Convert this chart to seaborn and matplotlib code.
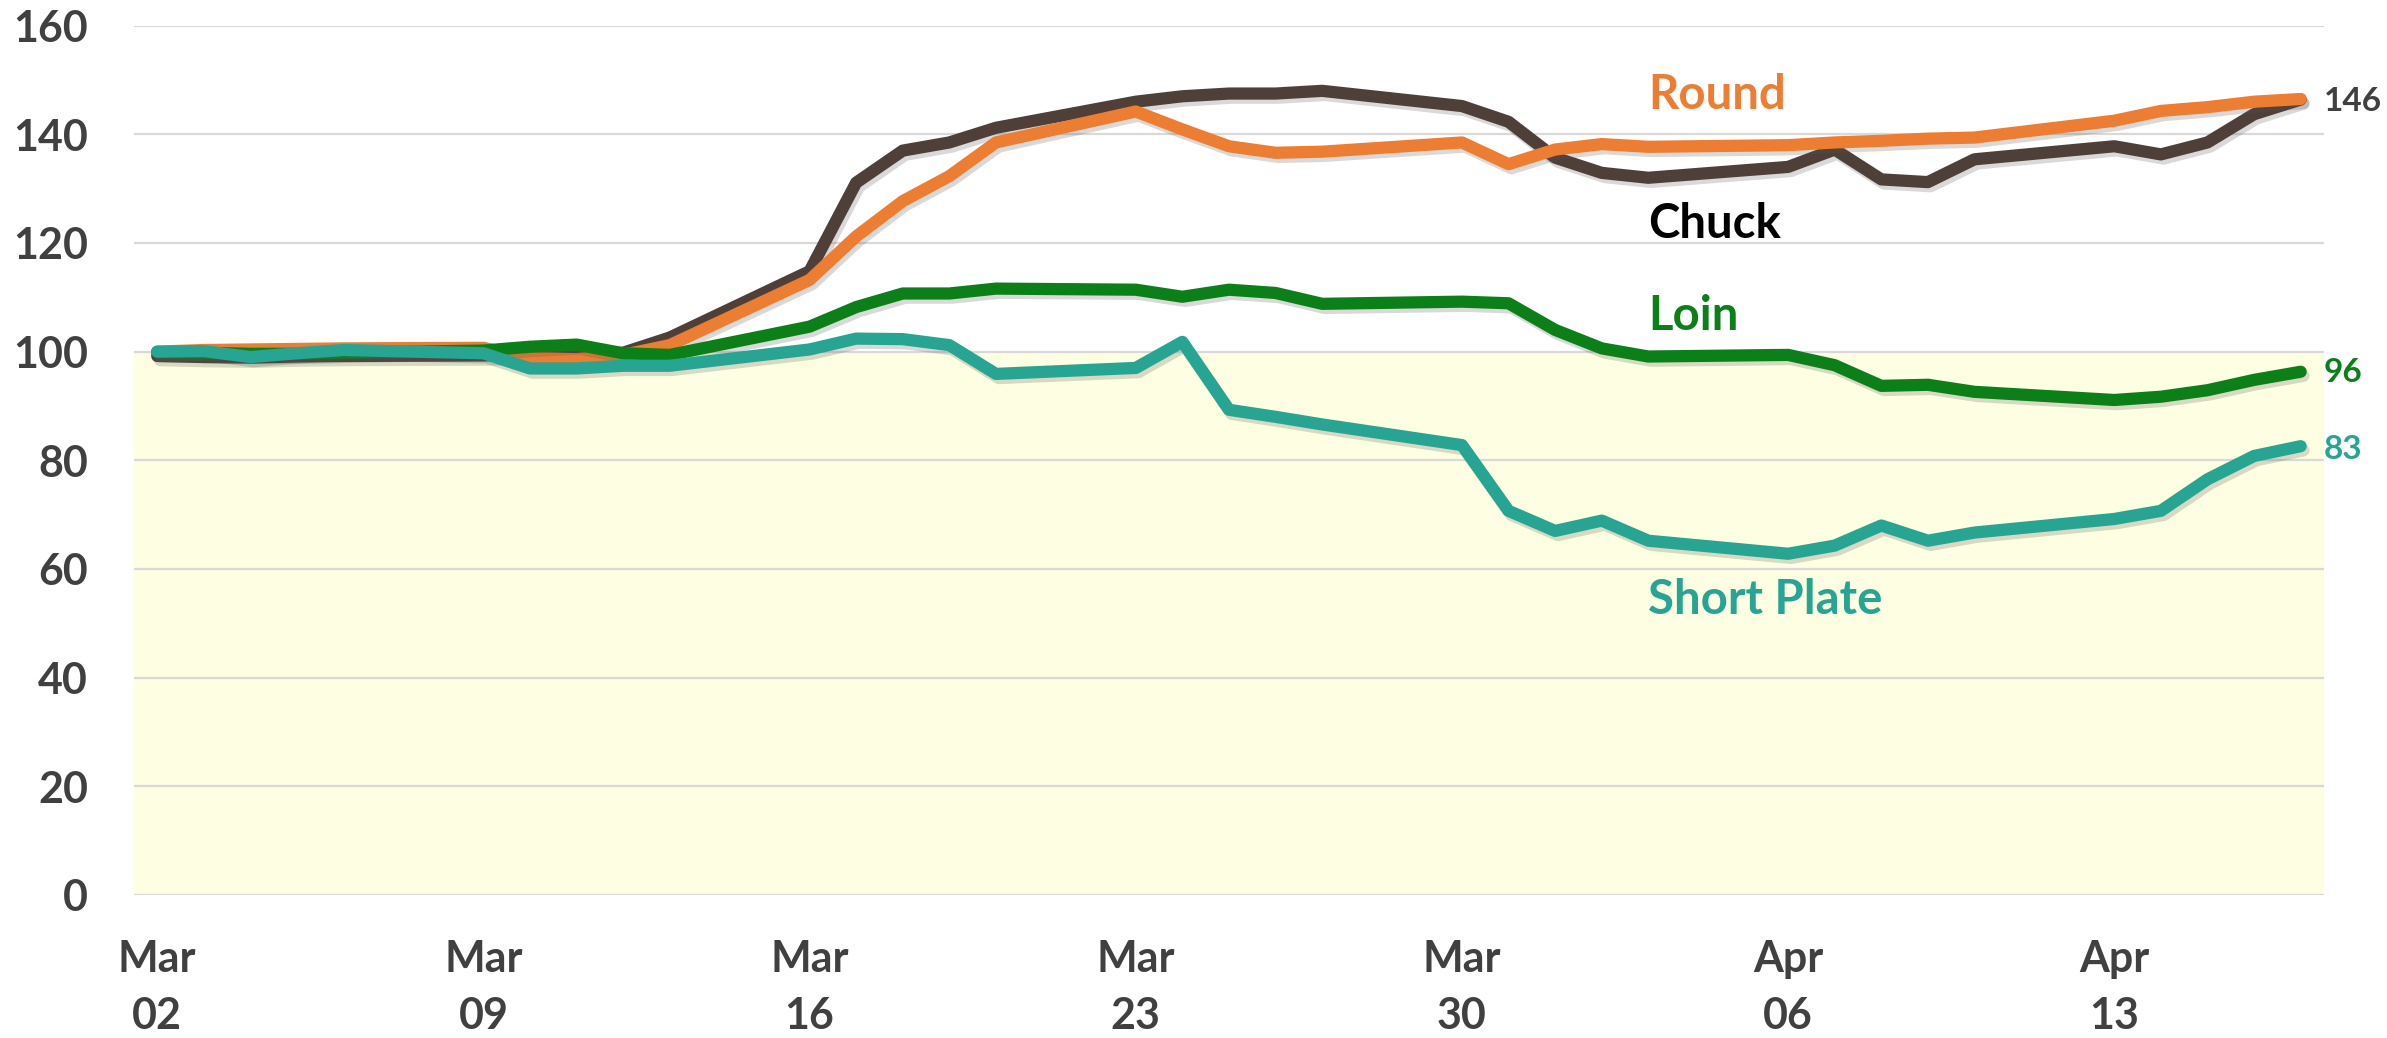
import pandas as pd
import matplotlib
matplotlib.use("Agg")
import matplotlib.pyplot as plt
import matplotlib.dates as mdates
import matplotlib.patheffects as pe
import seaborn as sns

# business days, Mar 02 - Apr 17
dates = pd.bdate_range("2020-03-02", "2020-04-17")

chuck = [99.2, 99.0, 98.9, 99.1, 99.2,
         99.3, 99.4, 99.3, 99.8, 102.6,
         114.8, 131.1, 137.0, 138.5, 141.2,
         146.0, 147.0, 147.5, 147.5, 148.0,
         145.2, 142.3, 135.7, 132.9, 132.0,
         134.0, 137.2, 131.7, 131.2, 135.4,
         137.8, 136.3, 138.5, 143.7, 146.4]
round_ = [100.0, 100.3, 100.4, 100.5, 100.6,
          100.7, 98.8, 98.6, 99.4, 101.2,
          113.2, 121.2, 127.7, 132.3, 138.5,
          144.2, 140.9, 137.8, 136.6, 136.8,
          138.5, 134.5, 137.2, 138.2, 137.7,
          138.0, 138.5, 138.8, 139.2, 139.4,
          142.5, 144.3, 145.0, 146.0, 146.5]
loin = [99.9, 99.8, 99.6, 99.6, 99.8,
        100.2, 100.9, 101.3, 99.7, 99.4,
        104.6, 108.2, 110.7, 110.7, 111.6,
        111.4, 110.1, 111.4, 110.8, 108.8,
        109.2, 108.9, 104.0, 100.6, 99.1,
        99.4, 97.5, 93.7, 93.9, 92.6,
        91.1, 91.7, 92.9, 94.8, 96.3]
short_plate = [100.0, 100.1, 99.0, 99.7, 100.3,
               99.7, 96.9, 96.9, 97.4, 97.4,
               100.4, 102.4, 102.3, 101.2, 95.9,
               97.0, 101.8, 89.3, 88.0, 86.6,
               82.8, 70.7, 67.0, 68.9, 65.2,
               62.8, 64.3, 68.0, 65.2, 66.7,
               69.2, 70.7, 76.5, 80.8, 82.6]

cuts = ["Chuck", "Round", "Loin", "Short Plate"]
colors = {"Chuck": "#4E4039", "Round": "#ED7D31", "Loin": "#0B8018", "Short Plate": "#26A592"}
label_colors = {"Chuck": "#000000", "Round": "#ED7D31", "Loin": "#0B8018", "Short Plate": "#26A592"}
# series label positions (day offset from Mar 02, baseline value)
label_pos = {"Round": (32, 144.6), "Chuck": (32, 121.0), "Loin": (32, 103.9), "Short Plate": (32, 51.8)}
end_labels = [("146", 144.3, "#404040"), ("96", 94.4, "#0B8018"), ("83", 80.3, "#26A592")]

df = pd.DataFrame({"date": dates, "Chuck": chuck, "Round": round_,
                   "Loin": loin, "Short Plate": short_plate})
df = df.melt(id_vars="date", var_name="cut", value_name="value")

sns.set_style("white")
plt.rcParams["font.family"] = ["Lato", "DejaVu Sans"]
plt.rcParams["font.weight"] = "bold"

fig = plt.figure(figsize=(23.87, 10.38), dpi=100)
ax = fig.add_axes([0.0561, 0.1378, 0.9175, 0.8375])

ax.axhspan(0, 100, color="#FEFEE2", zorder=0, lw=0)

sns.lineplot(data=df, x="date", y="value", hue="cut", hue_order=cuts,
             palette=colors, lw=8.8, legend=False, errorbar=None, ax=ax)
for line in ax.lines:
    line.set_solid_capstyle("round")
    line.set_path_effects([pe.SimpleLineShadow(offset=(2, -3), shadow_color="#555555", alpha=0.22),
                           pe.Normal()])

start = dates[0]
ax.set_xlim(start - pd.Timedelta(days=0.5), start + pd.Timedelta(days=46.5))
ax.set_ylim(0, 160)
ax.set_yticks(range(0, 161, 20))
ax.set_xticks(pd.date_range("2020-03-02", periods=7, freq="7D"))
ax.xaxis.set_major_formatter(mdates.DateFormatter("%b\n%d"))

ax.yaxis.grid(True, color="#D9D9D9", lw=1.6)
ax.xaxis.grid(False)
ax.set_axisbelow(True)
for s in ax.spines.values():
    s.set_visible(False)

ax.tick_params(axis="both", length=0, labelsize=31, labelcolor="#404040")
ax.tick_params(axis="y", pad=33)
ax.tick_params(axis="x", pad=32)
for t in ax.get_xticklabels():
    t.set_linespacing(1.5)
    t.set_fontweight("bold")
for t in ax.get_yticklabels():
    t.set_fontweight("bold")
ax.set_xlabel("")
ax.set_ylabel("")

for name, (d, v) in label_pos.items():
    ax.text(start + pd.Timedelta(days=d), v, name, color=label_colors[name],
            fontsize=34, fontweight="bold", ha="left", va="baseline")

for txt, v, c in end_labels:
    ax.text(start + pd.Timedelta(days=46.5), v, txt, color=c,
            fontsize=24, fontweight="bold", ha="left", va="baseline")

fig.savefig("out.png", dpi=100)
